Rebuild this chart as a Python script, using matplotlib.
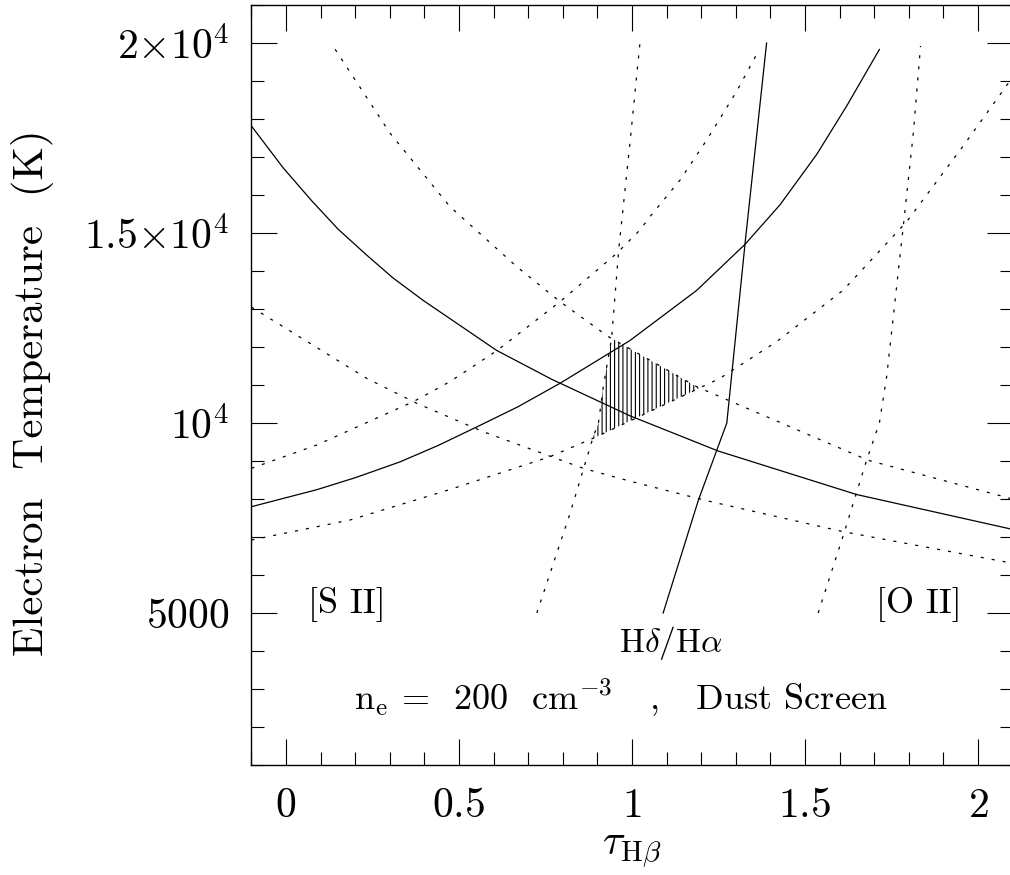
import numpy as np
import matplotlib
matplotlib.use("Agg")
import matplotlib.pyplot as plt
from matplotlib.ticker import FixedLocator, FixedFormatter, MultipleLocator

plt.rcParams['font.family'] = ['cmr10', 'DejaVu Serif']
plt.rcParams['mathtext.fontset'] = 'cm'
plt.rcParams['axes.formatter.use_mathtext'] = True
plt.rcParams['lines.scale_dashes'] = False
plt.rcParams['hatch.linewidth'] = 0.8

# ---- data (tau_Hbeta, electron temperature) ----
sii_x = [-0.10, -0.008, 0.074, 0.15, 0.233, 0.31, 0.397, 0.609, 0.768, 0.994, 1.249, 1.649, 2.10]
sii_T = [17816, 16712, 15851, 15106, 14420, 13812, 13223, 11909, 11150, 10190, 9263, 8118, 7200]

sii_hi_x = [0.142, 0.301, 0.474, 0.667, 0.792, 0.932, 1.187, 1.683, 2.10]
sii_hi_T = [19834, 17623, 15693, 14114, 13193, 12272, 10955, 9018, 8000]

sii_lo_x = [-0.10, 0.233, 0.378, 0.570, 0.859, 0.994, 1.216, 1.611, 2.10]
sii_lo_T = [13050, 11176, 10518, 9772, 8807, 8470, 7955, 7139, 6310]

oii_x = [-0.10, 0.089, 0.20, 0.329, 0.44, 0.551, 0.67, 0.792, 0.994, 1.187, 1.327, 1.428, 1.534, 1.621, 1.715]
oii_T = [7797, 8245, 8560, 8975, 9410, 9895, 10425, 11045, 12170, 13490, 14705, 15745, 17070, 18350, 19830]

oii_hi_x = [-0.10, 0.089, 0.368, 0.474, 0.609, 0.792, 0.956, 1.023, 1.052, 1.139, 1.216, 1.302, 1.368]
oii_hi_T = [8807, 9421, 10561, 11090, 11900, 13193, 14465, 15079, 15430, 16395, 17447, 18720, 19834]

oii_lo_x = [-0.10, 0.185, 0.474, 0.763, 0.898, 1.187, 1.254, 1.418, 1.611, 1.794, 1.958, 2.10]
oii_lo_T = [6921, 7447, 8250, 9114, 9640, 10886, 11176, 12140, 13500, 15300, 17300, 19100]

hd_x = [1.090, 1.192, 1.274, 1.327, 1.389]
hd_T = [5000, 7974, 10000, 14746, 20000]

hd_lo_x = [0.725, 0.821, 0.888, 0.903, 0.917, 0.941, 0.962, 0.994, 1.023]
hd_lo_T = [5000, 7623, 9639, 10000, 10955, 12228, 14597, 17360, 20000]

hd_hi_x = [1.538, 1.611, 1.678, 1.715, 1.736, 1.784, 1.813, 1.834]
hd_hi_T = [5000, 7053, 9018, 10000, 11220, 15167, 17623, 19921]

ytick_vals = [5000, 10000, 15000, 20000]
ytick_labels = [r'$5000$', r'$10^4$', r'$1.5{\times}10^4$', r'$2{\times}10^4$']
xtick_vals = [0, 0.5, 1, 1.5, 2]
xtick_labels = [r'$0$', r'$0.5$', r'$1$', r'$1.5$', r'$2$']

# ---- figure ----
W, H = 1010, 875
fig = plt.figure(figsize=(W / 100, H / 100), dpi=100)
ax = fig.add_axes([251.4 / W, (H - 765) / H, 761.2 / W, 760 / H])
ax.set_xlim(-0.1, 2.1)
ax.set_ylim(1000, 21000)

solid = dict(color='black', lw=0.9, ls='-')
dot = dict(color='black', lw=0.9, ls=(0, (2.2, 5.8)))

ax.plot(sii_x, sii_T, **solid)
ax.plot(sii_hi_x, sii_hi_T, **dot)
ax.plot(sii_lo_x, sii_lo_T, **dot)
ax.plot(oii_x, oii_T, **solid)
ax.plot(oii_hi_x, oii_hi_T, **dot)
ax.plot(oii_lo_x, oii_lo_T, **dot)
ax.plot(hd_x, hd_T, **solid)
ax.plot(hd_lo_x, hd_lo_T, **dot)
ax.plot(hd_hi_x, hd_hi_T, **dot)

# hatched allowed region
xg = np.linspace(0.85, 1.25, 1200)
upper = np.minimum(np.interp(xg, sii_hi_x, sii_hi_T), np.interp(xg, hd_lo_x, hd_lo_T))
lower = np.interp(xg, oii_lo_x, oii_lo_T)
ax.fill_between(xg, lower, upper, where=upper > lower, facecolor='none',
                edgecolor='black', hatch='||||', linewidth=0)

# ticks
for sp in ax.spines.values():
    sp.set_linewidth(1.0)
ax.xaxis.set_major_locator(FixedLocator(xtick_vals))
ax.xaxis.set_major_formatter(FixedFormatter(xtick_labels))
ax.xaxis.set_minor_locator(MultipleLocator(0.1))
ax.yaxis.set_major_locator(FixedLocator(ytick_vals))
ax.yaxis.set_major_formatter(FixedFormatter(ytick_labels))
ax.yaxis.set_minor_locator(MultipleLocator(1000))
ax.tick_params(which='both', direction='in', top=True, right=True, width=0.8)
ax.tick_params(which='major', length=19)
ax.tick_params(which='minor', length=9.5)
ax.tick_params(axis='x', which='major', labelsize=30, pad=16)
ax.tick_params(axis='y', which='major', labelsize=30, pad=16)

ax.set_xlabel(r'$\tau_{\rm H\beta}$', fontsize=30, labelpad=6)
ax.set_ylabel('Electron  Temperature  (K)', fontsize=31)
ax.yaxis.label.set(va='center', ha='center')
ax.yaxis.set_label_coords((33 - 251.4) / 761.2, 0.49)

# annotations
ax.text(0.175, 5000, '[S II]', fontsize=26, ha='center', va='baseline')
ax.text(1.830, 5000, '[O II]', fontsize=26, ha='center', va='baseline')
ax.text(1.112, 3980, r'H$\delta$/H$\alpha$', fontsize=24, ha='center', va='baseline')
ax.text(0.968, 2450, r'n$_{\rm e}$ =  200  cm$^{-3}$   ,   Dust Screen',
        fontsize=26, ha='center', va='baseline')

fig.savefig('out.png', dpi=100)
